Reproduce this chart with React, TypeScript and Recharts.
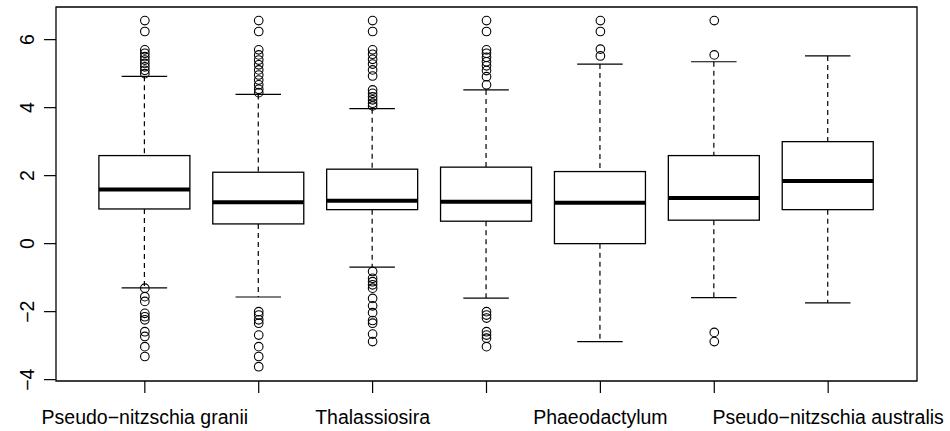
import React from "react";
import {
  ComposedChart,
  Bar,
  Scatter,
  XAxis,
  YAxis,
  ReferenceArea,
} from "recharts";

// group labels (R hides every second one because they would overlap)
const categories = [
  "Pseudo−nitzschia granii",
  "",
  "Thalassiosira",
  "",
  "Phaeodactylum",
  "",
  "Pseudo−nitzschia australis",
];
const lowerWhisker = [-1.3, -1.57, -0.69, -1.6, -2.88, -1.59, -1.74];
const q1 = [1.02, 0.58, 1.0, 0.66, 0.0, 0.69, 1.0];
const medians = [1.59, 1.22, 1.26, 1.23, 1.2, 1.34, 1.84];
const q3 = [2.59, 2.1, 2.19, 2.25, 2.12, 2.59, 3.0];
const upperWhisker = [4.92, 4.39, 3.97, 4.52, 5.28, 5.35, 5.52];

const outliers: number[][] = [
  [6.56, 6.24, 5.7, 5.6, 5.5, 5.4, 5.3, 5.2, 5.1, 5.0,
    -1.31, -1.56, -1.7, -2.05, -2.15, -2.24, -2.59, -2.73, -3.03, -3.32],
  [6.56, 6.24, 5.7, 5.55, 5.4, 5.26, 5.11, 4.96, 4.81, 4.67, 4.54, 4.44,
    -2.0, -2.1, -2.24, -2.34, -2.69, -3.03, -3.32, -3.62],
  [6.56, 6.24, 5.7, 5.57, 5.42, 5.28, 5.11, 4.93, 4.52, 4.42, 4.32, 4.23, 4.13, 4.05,
    -0.82, -1.02, -1.12, -1.21, -1.31, -1.61, -1.83, -2.03, -2.26, -2.34, -2.66, -2.88],
  [6.56, 6.24, 5.7, 5.6, 5.48, 5.35, 5.23, 5.09, 4.91, 4.67,
    -2.0, -2.1, -2.19, -2.59, -2.69, -2.78, -3.03],
  [6.56, 6.24, 5.72, 5.52],
  [6.56, 5.55, -2.61, -2.88],
  [],
];

const yTicks = [-4, -2, 0, 2, 4, 6];
const xTicks = [1, 2, 3, 4, 5, 6, 7];

const boxData = categories.map((name, i) => ({
  x: i + 1,
  name,
  range: [lowerWhisker[i], upperWhisker[i]],
  q1: q1[i],
  median: medians[i],
  q3: q3[i],
}));

const outlierData = outliers.flatMap((vals, i) =>
  vals.map((v) => ({ x: i + 1, y: v }))
);

const FONT = "'Liberation Sans', Arial, Helvetica, sans-serif";

const BoxShape = (props: any) => {
  const { x, y, width, height, payload } = props;
  const lo = payload.range[0];
  const hi = payload.range[1];
  const k = height / (hi - lo);
  const py = (v: number) => y + (hi - v) * k;
  const cx = x + width / 2;
  const cap = width / 4;
  return (
    <g>
      <line x1={cx} x2={cx} y1={py(hi)} y2={py(payload.q3)} stroke="#000" strokeWidth={1.2} strokeDasharray="5 4" />
      <line x1={cx} x2={cx} y1={py(payload.q1)} y2={py(lo)} stroke="#000" strokeWidth={1.2} strokeDasharray="5 4" />
      <line x1={cx - cap} x2={cx + cap} y1={py(hi)} y2={py(hi)} stroke="#000" strokeWidth={1.2} />
      <line x1={cx - cap} x2={cx + cap} y1={py(lo)} y2={py(lo)} stroke="#000" strokeWidth={1.2} />
      <rect
        x={x}
        y={py(payload.q3)}
        width={width}
        height={py(payload.q1) - py(payload.q3)}
        fill="#fff"
        stroke="#000"
        strokeWidth={1.3}
      />
      <line x1={x} x2={x + width} y1={py(payload.median)} y2={py(payload.median)} stroke="#000" strokeWidth={4} />
    </g>
  );
};

const XTick = (props: any) => {
  const { x, y, payload } = props;
  const label = categories[payload.value - 1];
  if (!label) return null;
  return (
    <text x={x} y={y + 30.5} textAnchor="middle" fontSize={19.5} fontFamily={FONT} fill="#000">
      {label}
    </text>
  );
};

const YTick = (props: any) => {
  const { x, y, payload } = props;
  const tx = x - 10;
  return (
    <text
      x={tx}
      y={y}
      transform={`rotate(-90, ${tx}, ${y})`}
      textAnchor="middle"
      fontSize={19.5}
      fontFamily={FONT}
      fill="#000"
    >
      {payload.value < 0 ? `−${Math.abs(payload.value)}` : payload.value}
    </text>
  );
};

export default function App() {
  return (
    <div style={{ position: "absolute", left: 0, top: 0, background: "#fff" }}>
      <ComposedChart
        width={950}
        height={431}
        data={boxData}
        margin={{ top: 7, right: 33, bottom: 0, left: 0 }}
      >
        <XAxis
          dataKey="x"
          type="number"
          domain={[0.22, 7.78]}
          ticks={xTicks}
          interval={0}
          allowDataOverflow
          axisLine={false}
          tickLine={{ stroke: "#000", strokeWidth: 1.2 }}
          tickSize={12}
          tickMargin={0}
          height={50}
          tick={<XTick />}
        />
        <YAxis
          type="number"
          domain={[-4.04, 6.96]}
          ticks={yTicks}
          interval={0}
          allowDataOverflow
          axisLine={false}
          tickLine={{ stroke: "#000", strokeWidth: 1.2 }}
          tickSize={12}
          tickMargin={0}
          width={56}
          tick={<YTick />}
        />
        <ReferenceArea
          x1={0.22}
          x2={7.78}
          y1={-4.04}
          y2={6.96}
          fill="none"
          fillOpacity={0}
          stroke="#000"
          strokeWidth={1.3}
          ifOverflow="visible"
        />
        <Bar dataKey="range" barSize={91} shape={<BoxShape />} isAnimationActive={false} />
        <Scatter
          data={outlierData}
          dataKey="y"
          isAnimationActive={false}
          shape={(p: any) => (
            <circle cx={p.cx} cy={p.cy} r={4.3} fill="none" stroke="#000" strokeWidth={1.1} />
          )}
        />
      </ComposedChart>
    </div>
  );
}
